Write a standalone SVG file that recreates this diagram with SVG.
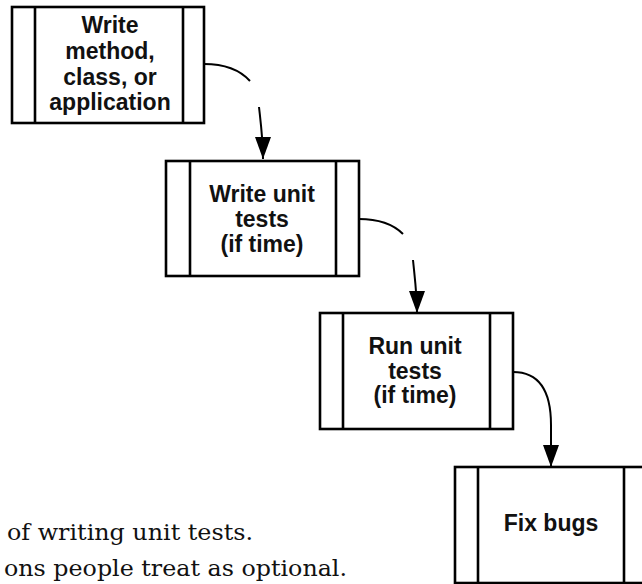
<svg xmlns="http://www.w3.org/2000/svg" width="642" height="584" viewBox="0 0 642 584">
<style>
.box{fill:#fff;stroke:#000;stroke-width:2.6}
.div{stroke:#000;stroke-width:2.6}
.lbl{font-family:"Liberation Sans",Arial,sans-serif;font-weight:bold;font-size:23px;fill:#111;text-anchor:middle}
.con{fill:none;stroke:#000;stroke-width:2}
.body{font-family:"DejaVu Serif",serif;font-size:23px;fill:#111}
</style>
<defs>
<marker id="arr" markerUnits="userSpaceOnUse" markerWidth="22" markerHeight="16" viewBox="0 0 22 16" refX="22" refY="8" orient="auto">
<path d="M0,0 L22,8 L0,16 z" fill="#000"/>
</marker>
</defs>
<rect width="642" height="584" fill="#fff"/>
<g id="node-write-method">
<rect class="box" x="12" y="7" width="192" height="116"/>
<line class="div" x1="35" y1="7" x2="35" y2="123"/>
<line class="div" x1="183" y1="7" x2="183" y2="123"/>
<text class="lbl" x="110" y="33">Write</text>
<text class="lbl" x="110" y="59">method,</text>
<text class="lbl" x="110" y="85">class, or</text>
<text class="lbl" x="110" y="110">application</text>
</g>
<g id="node-write-tests">
<rect class="box" x="166" y="161" width="193" height="115"/>
<line class="div" x1="190" y1="161" x2="190" y2="276"/>
<line class="div" x1="336" y1="161" x2="336" y2="276"/>
<text class="lbl" x="262" y="202">Write unit</text>
<text class="lbl" x="262" y="227">tests</text>
<text class="lbl" x="262" y="252">(if time)</text>
</g>
<g id="node-run-tests">
<rect class="box" x="320" y="313" width="193" height="116"/>
<line class="div" x1="343" y1="313" x2="343" y2="429"/>
<line class="div" x1="490" y1="313" x2="490" y2="429"/>
<text class="lbl" x="415" y="354">Run unit</text>
<text class="lbl" x="415" y="379">tests</text>
<text class="lbl" x="415" y="403">(if time)</text>
</g>
<g id="node-fix-bugs">
<rect class="box" x="455" y="467" width="192" height="116"/>
<line class="div" x1="478" y1="467" x2="478" y2="583"/>
<line class="div" x1="624" y1="467" x2="624" y2="583"/>
<text class="lbl" x="551" y="531">Fix bugs</text>
</g>
<g id="connectors">
<path class="con" d="M204,64 C225,64 240,70 250,81"/>
<path class="con" d="M259,107 C261,125 263,140 263,159" marker-end="url(#arr)"/>
<path class="con" d="M359,219 C380,219 394,225 403,234"/>
<path class="con" d="M413,260 C415,280 417,295 417,313" marker-end="url(#arr)"/>
<path class="con" d="M513,372 C538,372 551,390 551,425 L551,467" marker-end="url(#arr)"/>
</g>
<g id="caption">
<text class="body" x="7" y="540" textLength="246" lengthAdjust="spacingAndGlyphs">of writing unit tests.</text>
<text class="body" x="4" y="576" textLength="343" lengthAdjust="spacingAndGlyphs">ons people treat as optional.</text>
</g>
</svg>
